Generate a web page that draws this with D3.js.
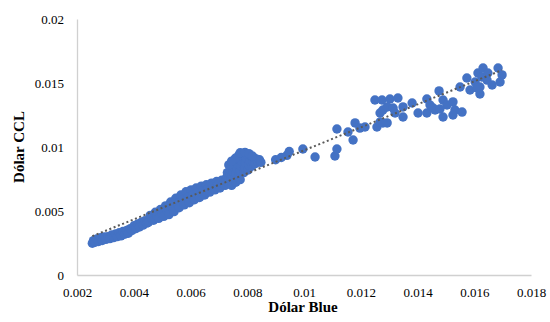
<!DOCTYPE html>
<html>
<head>
<meta charset="utf-8">
<script src="https://cdn.jsdelivr.net/npm/d3@7"></script>
<style>
  body { margin: 0; background: #fff; }
  svg text { font-family: "Liberation Serif", "Times New Roman", serif; fill: #000; }
</style>
</head>
<body>
<svg width="550" height="322"></svg>
<script>
// [Dólar Blue, Dólar CCL] pairs
const lowBand = [
  [0.00254,0.00248],[0.00258,0.00268],[0.00264,0.00256],[0.00270,0.00282],[0.00276,0.00262],
  [0.00283,0.00292],[0.00289,0.00270],[0.00296,0.00298],[0.00302,0.00278],[0.00309,0.00300],
  [0.00316,0.00284],[0.00322,0.00312],[0.00329,0.00292],[0.00336,0.00320],[0.00342,0.00300],
  [0.00349,0.00330],[0.00355,0.00306],[0.00362,0.00340],[0.00368,0.00318],[0.00375,0.00348],
  [0.00381,0.00326],[0.00388,0.00362],[0.00394,0.00348],[0.00401,0.00385],[0.00407,0.00362],
  [0.00414,0.00398],[0.00420,0.00375],[0.00427,0.00412],[0.00433,0.00390],[0.00440,0.00425],
  [0.00446,0.00405]
];
const midBand = [
  [0.00452,0.00412],[0.00458,0.00466],[0.00464,0.00440],[0.00470,0.00428],[0.00476,0.00490],
  [0.00482,0.00460],[0.00488,0.00442],[0.00494,0.00512],[0.00500,0.00478],[0.00506,0.00458],
  [0.00512,0.00540],[0.00518,0.00500],[0.00524,0.00472],[0.00530,0.00570],[0.00536,0.00525],
  [0.00542,0.00495],[0.00548,0.00600],[0.00554,0.00560],[0.00560,0.00525],[0.00566,0.00625],
  [0.00572,0.00585],[0.00578,0.00548],[0.00584,0.00650],[0.00590,0.00605],[0.00596,0.00565],
  [0.00602,0.00665],[0.00608,0.00625],[0.00614,0.00588],[0.00620,0.00680],[0.00626,0.00645],
  [0.00632,0.00606],[0.00638,0.00694],[0.00644,0.00660],[0.00650,0.00625],[0.00656,0.00705],
  [0.00662,0.00675],[0.00668,0.00648],[0.00674,0.00718],[0.00680,0.00695],[0.00686,0.00665],
  [0.00692,0.00730],[0.00698,0.00708],[0.00704,0.00680],[0.00710,0.00740],[0.00716,0.00718]
];
const bumpCluster = [
  [0.00722,0.00700],[0.00725,0.00735],[0.00728,0.00765],[0.00730,0.00800],[0.00733,0.00720],
  [0.00736,0.00752],[0.00739,0.00785],[0.00741,0.00820],[0.00744,0.00745],[0.00747,0.00775],
  [0.00750,0.00808],[0.00752,0.00845],[0.00755,0.00880],[0.00757,0.00760],[0.00760,0.00795],
  [0.00763,0.00830],[0.00765,0.00868],[0.00768,0.00905],[0.00770,0.00935],[0.00772,0.00780],
  [0.00775,0.00815],[0.00778,0.00852],[0.00780,0.00888],[0.00783,0.00925],[0.00786,0.00950],
  [0.00788,0.00800],[0.00791,0.00840],[0.00794,0.00875],[0.00797,0.00912],[0.00800,0.00940],
  [0.00803,0.00820],[0.00806,0.00860],[0.00809,0.00895],[0.00812,0.00930],[0.00816,0.00850],
  [0.00820,0.00885],[0.00824,0.00915],[0.00828,0.00870],[0.00833,0.00905],[0.00838,0.00885],
  [0.00843,0.00900],[0.00848,0.00880],[0.00745,0.00700],[0.00760,0.00725],[0.00775,0.00745],
  [0.00758,0.00912],[0.00775,0.00955],[0.00792,0.00958],[0.00806,0.00948],[0.00818,0.00930],
  [0.00735,0.00860],[0.00745,0.00890]
];
const sparse = [
  [0.00900,0.00900],[0.00920,0.00918],[0.00940,0.00935],[0.00948,0.00965],[0.00996,0.00984],
  [0.01039,0.00922],[0.01109,0.00930],[0.01116,0.00984],[0.01116,0.01141],[0.01155,0.01117],
  [0.01180,0.01188],[0.01173,0.01055],[0.01197,0.01148],[0.01215,0.01156]
];
const upperCluster = [
  [0.01250,0.01367],[0.01275,0.01367],[0.01303,0.01375],[0.01331,0.01383],[0.01268,0.01266],
  [0.01278,0.01289],[0.01293,0.01313],[0.01257,0.01156],[0.01268,0.01195],[0.01293,0.01188],
  [0.01278,0.01188],[0.01321,0.01266],[0.01314,0.01305],[0.01349,0.01313],[0.01349,0.01234],
  [0.01381,0.01344],[0.01402,0.01266],[0.01433,0.01375],[0.01444,0.01328],[0.01433,0.01266],
  [0.01462,0.01289],[0.01476,0.01438],[0.01490,0.01367],[0.01504,0.01328],[0.01490,0.01234],
  [0.01525,0.01352],[0.01532,0.01289],[0.01525,0.01250],[0.01557,0.01273],[0.01455,0.01305],
  [0.01479,0.01297],[0.01550,0.01469],[0.01574,0.01539],[0.01585,0.01445],[0.01603,0.01508],
  [0.01613,0.01578],[0.01631,0.01617],[0.01627,0.01547],[0.01620,0.01469],[0.01620,0.01414],
  [0.01610,0.01461],[0.01645,0.01523],[0.01663,0.01484],[0.01684,0.01617],[0.01698,0.01563],
  [0.01691,0.01508],[0.01648,0.01578]
];

const xTicks = [0.002, 0.004, 0.006, 0.008, 0.01, 0.012, 0.014, 0.016, 0.018];
const xTickLabels = ['0.002', '0.004', '0.006', '0.008', '0.01', '0.012', '0.014', '0.016', '0.018'];
const yTicks = [0, 0.005, 0.01, 0.015, 0.02];
const yTickLabels = ['0', '0.005', '0.01', '0.015', '0.02'];

const points = [].concat(lowBand, midBand, bumpCluster, sparse, upperCluster);

const svg = d3.select('svg');
const x = d3.scaleLinear().domain([0.002, 0.018]).range([77, 531]);
const y = d3.scaleLinear().domain([0, 0.02]).range([275, 19]);

const xAxis = d3.axisBottom(x)
  .tickValues(xTicks)
  .tickFormat((d, i) => xTickLabels[i])
  .tickSize(0)
  .tickPadding(13);
const yAxis = d3.axisLeft(y)
  .tickValues(yTicks)
  .tickFormat((d, i) => yTickLabels[i])
  .tickSize(0)
  .tickPadding(13);

const gx = svg.append('g').attr('transform', 'translate(0,275)').call(xAxis);
const gy = svg.append('g').attr('transform', 'translate(77,0)').call(yAxis);
[gx, gy].forEach(g => {
  g.select('.domain').attr('stroke', '#d0d0d0').attr('stroke-width', 1.3);
  g.selectAll('text').attr('font-size', 13).attr('fill', '#000')
    .attr('font-family', '"Liberation Serif", "Times New Roman", serif');
});

// dots
svg.append('g')
  .selectAll('circle')
  .data(points)
  .join('circle')
  .attr('cx', d => x(d[0]))
  .attr('cy', d => y(d[1]))
  .attr('r', 4.7)
  .attr('fill', '#4472C4');

// linear trendline (least squares over the points)
const mx = d3.mean(points, d => d[0]);
const my = d3.mean(points, d => d[1]);
const slope = d3.sum(points, d => (d[0] - mx) * (d[1] - my)) / d3.sum(points, d => (d[0] - mx) ** 2);
const icept = my - slope * mx;
const [x0, x1] = d3.extent(points, d => d[0]);
const line = d3.line().x(d => x(d)).y(d => y(icept + slope * d));
svg.append('path')
  .datum([x0, x1])
  .attr('d', line)
  .attr('fill', 'none')
  .attr('stroke', '#595959')
  .attr('stroke-width', 2)
  .attr('stroke-dasharray', '2,2.6');

// axis titles
svg.append('text')
  .attr('x', 303)
  .attr('y', 312)
  .attr('text-anchor', 'middle')
  .attr('font-size', 15)
  .attr('font-weight', 'bold')
  .text('Dólar Blue');

svg.append('text')
  .attr('transform', 'translate(24,147) rotate(-90)')
  .attr('text-anchor', 'middle')
  .attr('font-size', 15)
  .attr('font-weight', 'bold')
  .text('Dólar CCL');
</script>
</body>
</html>
